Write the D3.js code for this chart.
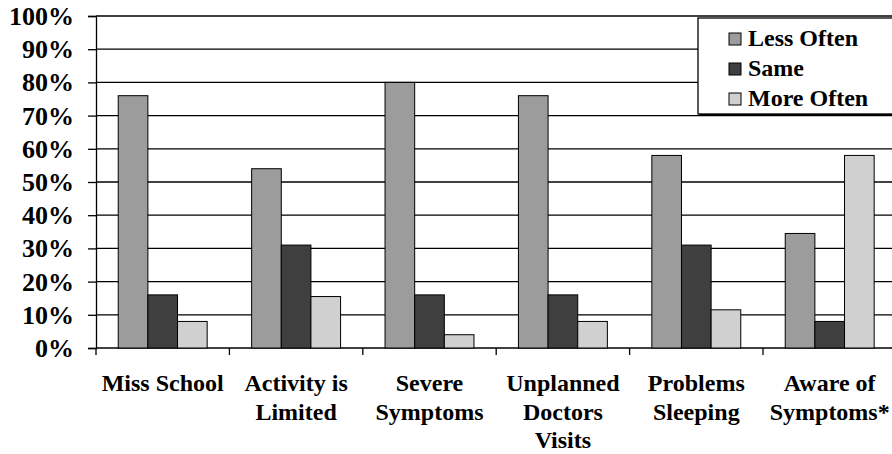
<!DOCTYPE html>
<html><head><meta charset="utf-8">
<script src="https://cdn.jsdelivr.net/npm/d3@7"></script>
</head><body style="margin:0">
<svg id="chart" width="892" height="454" font-family="Liberation Serif"></svg>
<script>
const categories = [["Miss School"],["Activity is","Limited"],["Severe","Symptoms"],["Unplanned","Doctors","Visits"],["Problems","Sleeping"],["Aware of","Symptoms*"]];
const seriesNames = ["Less Often","Same","More Often"];
const lessOften = [76, 54, 80, 76, 58, 34.5];
const same = [16, 31, 16, 16, 31, 8];
const moreOften = [8, 15.5, 4, 8, 11.5, 58];
const yTicks = [0,10,20,30,40,50,60,70,80,90,100];
const colors = ["#9c9c9c","#3f3f3f","#d0d0d0"];

const series = [lessOften, same, moreOften];
const svg = d3.select("#chart");
const pL = 96, pR = 896.4, pT = 16, pB = 348;
const catIdx = d3.range(categories.length);
const x0 = d3.scaleBand().domain(catIdx).range([pL, pR]).padding(0);
const bw = x0.bandwidth();
const x1 = d3.scaleBand().domain(d3.range(3)).range([bw/6, bw*5/6]).padding(0);
const y = d3.scaleLinear().domain([0,100]).range([pB, pT]);

function txt(x, yy, s, size, anchor){
  return svg.append("text").attr("x", x).attr("y", yy).attr("text-anchor", anchor)
    .style("font-family", '"Liberation Serif"').style("font-weight","bold").style("font-size", size+"px")
    .text(s);
}

// gridlines
svg.append("g").selectAll("line").data(yTicks).join("line")
  .attr("x1", pL).attr("x2", 892).attr("y1", d=>y(d)).attr("y2", d=>y(d))
  .attr("stroke", "#000").attr("stroke-width", 1.3);

// y axis (line + ticks), labels drawn as plain text
const yAxis = d3.axisLeft(y).tickValues(yTicks).tickSize(8).tickFormat("");
const yg = svg.append("g").attr("transform", `translate(${pL},0)`).call(yAxis);
yg.select(".domain").attr("stroke","#000").attr("stroke-width",1.3);
yg.selectAll(".tick line").attr("stroke","#000").attr("stroke-width",1.3);
yTicks.forEach(t => txt(74, y(t) + 9, t + "%", 26, "end"));

// x axis ticks at category boundaries
catIdx.forEach(i => {
  svg.append("line").attr("x1", x0(i)).attr("x2", x0(i)).attr("y1", pB).attr("y2", pB+7)
    .attr("stroke","#000").attr("stroke-width",1.3);
});

// bars
const groups = svg.append("g").selectAll("g").data(catIdx).join("g")
  .attr("transform", i=>`translate(${x0(i)},0)`);
groups.selectAll("rect").data(i=>series.map((s,k)=>({k, v:s[i]}))).join("rect")
  .attr("x", d=>x1(d.k)).attr("width", x1.bandwidth())
  .attr("y", d=>y(d.v)).attr("height", d=>pB - y(d.v))
  .attr("fill", d=>colors[d.k]).attr("stroke","#000").attr("stroke-width",1);

// category labels
catIdx.forEach(i => {
  categories[i].forEach((line,j) => txt(x0(i)+bw/2, 391 + j*28.5, line, 24, "middle"));
});

// legend
svg.append("rect").attr("x",699).attr("y",20).attr("width",200).attr("height",96).attr("fill","#000");
svg.append("rect").attr("x",698).attr("y",18).attr("width",200).attr("height",96)
  .attr("fill","#fff").attr("stroke","#000").attr("stroke-width",1.3);
seriesNames.forEach((nm,k) => {
  svg.append("rect").attr("x",729).attr("y",33 + k*30).attr("width",12).attr("height",12)
    .attr("fill",colors[k]).attr("stroke","#000").attr("stroke-width",1);
  txt(748, 46 + k*30, nm, 24, "start");
});
</script>
</body></html>
